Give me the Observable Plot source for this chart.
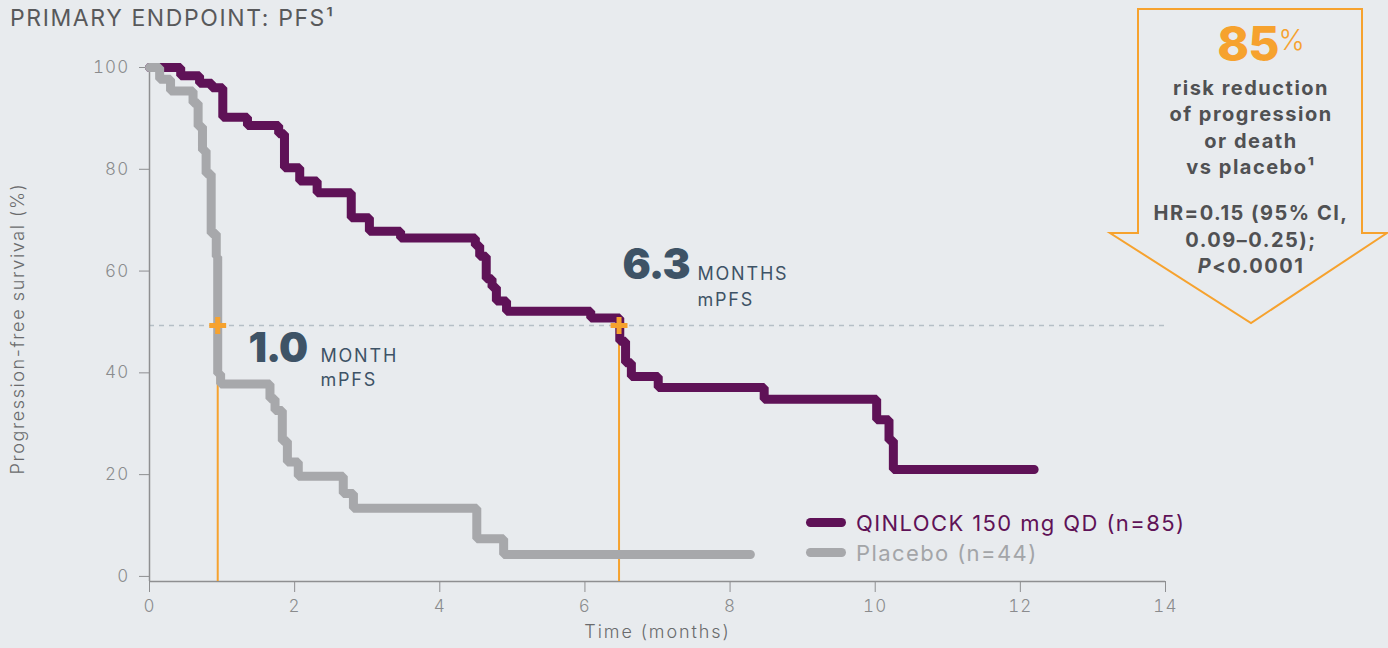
<!DOCTYPE html>
<html>
<head>
<meta charset="utf-8">
<script src="https://cdn.jsdelivr.net/npm/d3@7"></script>
<script src="https://cdn.jsdelivr.net/npm/@observablehq/plot@0.6"></script>
<style>
  html, body { margin: 0; padding: 0; background: #e8ebee; }
  #wrap { position: relative; width: 1388px; height: 648px; overflow: hidden; font-family: Inter, "Noto Sans", sans-serif; }
  #chart { position: absolute; left: 0; top: 0; }
  .abs { position: absolute; white-space: nowrap; line-height: 1; }
  .c { transform: translateX(-50%); }
  .callout { font-size: 20px; font-weight: 700; color: #505153; letter-spacing: 1.5px; }
  .sw { position: absolute; width: 40px; height: 9px; border-radius: 4.5px; }
  .lg { position: absolute; white-space: nowrap; line-height: 1; font-size: 22px; letter-spacing: 1.4px; }
</style>
</head>
<body>
<div id="wrap">
  <div id="chart"></div>
  <div class="abs" id="title" style="left:10px; top:7px; font-size:23px; color:#58595b; letter-spacing:1.6px; font-weight:400;"></div>
  <svg width="1388" height="648" style="position:absolute;left:0;top:0;pointer-events:none;">
    <polygon id="arrow" fill="none" stroke="#f6a22e" stroke-width="2" stroke-linejoin="miter"></polygon>
  </svg>
  <div id="callout"></div>
  <div id="legend"></div>
</div>
<script>
// ---------- data ----------
const titleText = "PRIMARY ENDPOINT: PFS\u00B9";
const seriesNames = ["QINLOCK 150 mg QD (n=85)", "Placebo (n=44)"];

// QINLOCK (Kaplan–Meier steps: time in months, PFS %)
const qinlockTime = [0, 0.43, 0.69, 0.86, 1.01, 1.35, 1.78, 1.86, 2.07, 2.31, 2.78, 3.03, 3.46, 4.49, 4.55, 4.64, 4.72, 4.78, 4.92, 6.08, 6.48, 6.56, 6.64, 7.01, 8.47, 10.02, 10.19, 10.25, 12.19];
const qinlockPFS  = [100, 98.4, 96.9, 96.0, 90.2, 88.6, 87.0, 80.3, 77.7, 75.4, 70.5, 67.8, 66.5, 65.0, 62.9, 58.5, 56.8, 54.1, 52.1, 50.8, 46.2, 42.0, 39.3, 37.1, 34.8, 30.8, 26.7, 21.0, 21.0];

// Placebo
const placeboTime = [0, 0.14, 0.29, 0.60, 0.67, 0.73, 0.78, 0.85, 0.92, 0.94, 0.98, 1.66, 1.73, 1.83, 1.90, 2.05, 2.67, 2.81, 4.51, 4.88, 8.28];
const placeboPFS  = [100, 97.7, 95.4, 93.0, 88.4, 83.7, 79.1, 67.4, 62.8, 39.8, 37.8, 34.9, 32.6, 26.6, 22.5, 19.7, 16.3, 13.4, 7.4, 4.3, 4.3];

// Median PFS markers (where the orange guides are drawn) and labels
const medianMarkerTime = [6.47, 0.94];
const medianLevel = 49.3;
const medianLabels = ["6.3", "1.0"];
const medianUnits = ["MONTHS", "MONTH"];
const medianSub = ["mPFS", "mPFS"];

const xTicks = [0, 2, 4, 6, 8, 10, 12, 14];
const yTicks = [0, 20, 40, 60, 80, 100];
const xLabel = "Time (months)";
const yLabel = "Progression-free survival (%)";

const calloutBig = "85";
const calloutLines = ["risk reduction", "of progression", "or death", "vs placebo\u00B9"];
const calloutStats = ["HR=0.15 (95% CI,", "0.09\u20130.25);", "<i>P</i>&lt;0.0001"];

// ---------- colours ----------
const purple = "#5f1257";
const grey = "#a7a8ab";
const orange = "#f6a22e";
const slate = "#3e5366";
const axisGrey = "#8e8f91";

// ---------- tables ----------
const qinlock = qinlockTime.map((t, i) => ({t, s: qinlockPFS[i]}));
const placebo = placeboTime.map((t, i) => ({t, s: placeboPFS[i]}));
const medians = medianMarkerTime.map((t, i) => ({t, label: medianLabels[i], unit: medianUnits[i], sub: medianSub[i]}));

const chart = Plot.plot({
  width: 1388,
  height: 648,
  marginLeft: 149,
  marginRight: 223,
  marginTop: 67,
  marginBottom: 67,
  x: {domain: [0, 14]},
  y: {domain: [-1, 100]},
  style: {background: "transparent", fontFamily: "Inter, 'Noto Sans', sans-serif", fontSize: "17px", overflow: "visible"},
  marks: [
    Plot.ruleY([medianLevel], {x1: 0, x2: 14, stroke: "#b5bfc6", strokeWidth: 1.5, strokeDasharray: "5,5"}),
    Plot.ruleY([-1], {x1: 0, x2: 14, stroke: axisGrey, strokeWidth: 1.5}),
    Plot.ruleX([0], {y1: -1, y2: 100, stroke: axisGrey, strokeWidth: 1.5}),
    Plot.axisX({ticks: xTicks, tickSize: 11, tickPadding: 7, stroke: axisGrey, fill: "#8a8b8d", fontWeight: 300, label: null}),
    Plot.axisY({ticks: yTicks, tickSize: 10, tickPadding: 10, stroke: axisGrey, fill: "#8a8b8d", fontWeight: 300, label: null}),
    Plot.text([xLabel], {frameAnchor: "bottom", dy: 56, fill: "#6a6b6d", fontSize: 18, fontWeight: 300}),
    // y-axis title: centred at about 48.7 % on the value scale, left of the axis
    Plot.text([yLabel], {x: -1.81, y: 48.7, rotate: -90, fill: "#6a6b6d", fontSize: 18, fontWeight: 300}),
    Plot.ruleX(medians, {x: "t", y1: -1, y2: medianLevel, stroke: orange, strokeWidth: 2}),
    Plot.line(qinlock, {x: "t", y: "s", curve: "step-after", stroke: purple, strokeWidth: 9, strokeLinejoin: "miter", strokeLinecap: "round"}),
    Plot.line(placebo, {x: "t", y: "s", curve: "step-after", stroke: grey, strokeWidth: 9, strokeLinejoin: "miter", strokeLinecap: "round"}),
    Plot.dot(medians, {x: "t", y: medianLevel, symbol: "plus", r: 5.5, stroke: orange, strokeWidth: 5}),
    // median annotations
    Plot.text([medians[1]], {x: 1.364, y: 44.8, text: "label", textAnchor: "start", fill: slate, fontSize: 41, fontWeight: 900}),
    Plot.text([medians[1]], {x: 2.356, y: 43.3, text: "unit", textAnchor: "start", fill: slate, fontSize: 18, fontWeight: 400}),
    Plot.text([medians[1]], {x: 2.356, y: 38.5, text: "sub", textAnchor: "start", fill: slate, fontSize: 18, fontWeight: 400}),
    Plot.text([medians[0]], {x: 6.518, y: 61.0, text: "label", textAnchor: "start", fill: slate, fontSize: 42, fontWeight: 900}),
    Plot.text([medians[0]], {x: 7.551, y: 59.4, text: "unit", textAnchor: "start", fill: slate, fontSize: 18, fontWeight: 400}),
    Plot.text([medians[0]], {x: 7.551, y: 54.3, text: "sub", textAnchor: "start", fill: slate, fontSize: 18, fontWeight: 400})
  ]
});
document.getElementById("chart").appendChild(chart);

// letter spacing tweaks to approximate the original geometric typeface
const svg = d3.select(chart);
svg.selectAll('[aria-label="x-axis tick label"] text, [aria-label="y-axis tick label"] text').attr("letter-spacing", 1.2);
svg.selectAll("text").filter(function() { return this.textContent === xLabel; }).attr("letter-spacing", 1.9);
svg.selectAll("text").filter(function() { return this.textContent === yLabel; }).attr("letter-spacing", 1.6);
svg.selectAll("text").filter(function() { return medianUnits.includes(this.textContent) || this.textContent === "mPFS"; }).attr("letter-spacing", 1.8);
svg.selectAll("text").filter(function() { return medianLabels.includes(this.textContent); }).attr("letter-spacing", -1);

// title
document.getElementById("title").textContent = titleText;

// callout arrow
d3.select("#arrow").attr("points", [[1138, 9], [1362, 9], [1362, 233], [1387, 233], [1251, 323], [1110, 233], [1138, 233]].map(p => p.join(",")).join(" "));
const co = document.getElementById("callout");
co.innerHTML =
  `<div class="abs c" style="left:1261px; top:20px; font-size:48px; font-weight:800; color:${orange}; letter-spacing:-1px;">${calloutBig}<span style="font-size:28px; font-weight:300; vertical-align:top; position:relative; top:6px; letter-spacing:0;">%</span></div>` +
  calloutLines.map((s, i) => `<div class="abs c callout" style="left:1251px; top:${[77.5, 104, 130.5, 157][i]}px;">${s}</div>`).join("") +
  calloutStats.map((s, i) => `<div class="abs c callout" style="left:1251px; top:${[203, 229.7, 256.3][i]}px;">${s}</div>`).join("");

// legend
const lg = document.getElementById("legend");
const lgColors = [purple, grey];
const lgTextColors = [purple, "#a3a5a8"];
lg.innerHTML = seriesNames.map((n, i) =>
  `<div class="sw" style="left:806px; top:${[518, 548][i]}px; background:${lgColors[i]};"></div>` +
  `<div class="lg" style="left:856px; top:${[512, 542][i]}px; color:${lgTextColors[i]};">${n}</div>`
).join("");
</script>
</body>
</html>
